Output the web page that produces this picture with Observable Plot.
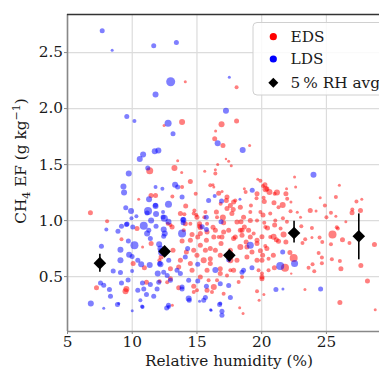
<!DOCTYPE html>
<html><head><meta charset="utf-8">
<script src="https://cdn.jsdelivr.net/npm/d3@7"></script>
<script src="https://cdn.jsdelivr.net/npm/@observablehq/plot@0.6"></script>
<style>body{margin:0;background:#fff}</style>
</head><body><div id="chart"></div>
<script>
const xTicks = [5, 10, 15, 20, 25];
const yTicks = [0.5, 1.0, 1.5, 2.0, 2.5];

const edsRH = [
12.46,14.1,18.06,18.06,13.85,16.9,16.44,16.37,17.01,19.07,
13.51,17.24,17.45,16.6,13.26,17.65,15.6,16.42,13.82,16.42,
11.35,14.49,16.24,16.3,19.7,19.9,20.25,13.85,20.4,18.66,
16.94,20.6,14.9,13.1,19.6,17.27,20.2,14.13,16.83,17.58,
19.17,14.8,17.8,16.5,14.03,14.95,17.0,15.57,18.4,19.12,
15.2,16.24,12.95,11.45,11.8,10.5,6.77,8.06,10.37,22.54,
22.62,26.0,20.1,20.3,21.18,21.87,21.92,20.15,21.97,22.26,
24.52,25.73,20.95,21.62,24.88,27.32,27.73,23.75,22.23,22.75,
24.2,25.35,27.0,26.98,27.63,25.73,20.1,23.0,21.64,25.0,
26.5,21.0,23.88,20.45,23.06,25.8,21.46,20.2,21.95,25.88,
20.02,20.92,21.13,21.3,21.69,21.87,23.36,23.88,24.47,24.68,
25.47,26.24,26.78,28.71,20.28,23.15,25.35,22.18,22.47,24.4,
24.65,25.42,26.04,20.07,20.53,21.8,20.98,23.93,23.62,24.65,
27.66,26.12,24.06,22.28,20.02,20.02,28.17,23.34,20.17,26.04,
28.77,13.1,18.56,19.8,9.17,10.8,11.46,10.07,10.94,12.23,
7.24,9.55,9.48,11.1,12.1,12.7,16.03,16.68,17.32,17.83,
18.76,19.64,21.0,13.08,14.1,13.72,14.75,15.2,13.85,14.49,
15.06,15.73,16.3,16.42,16.86,17.45,17.83,18.35,18.66,19.12,
19.64,19.64,19.25,18.86,20.02,19.76,20.4,20.9,18.22,17.83,
17.58,16.03,15.52,15.0,14.49,14.18,13.72,13.15,12.95,15.26,
15.9,16.3,15.0,14.75,17.06,13.59,12.12,12.95,12.74,14.62,
15.26,15.78,16.68,17.06,17.96,18.48,18.8,19.64,19.9,16.03,
16.8,17.58,18.48,14.75,15.78,16.16,19.64,18.3,18.6,18.99,
19.38,18.48,18.09,17.7,17.06,16.55,20.28,20.66,21.05,20.02,
20.53,19.64,16.03,16.8,15.65,15.26,14.75,13.98,13.59,14.62,
16.8,17.32,16.55,15.78,17.58,18.09,18.86,18.35,16.42,15.78,
15.26,14.49,15.0,15.65,17.32,16.93,19.12,19.9,20.66,21.3,
17.96,18.35];
const edsEF = [
1.85,2.24,2.19,1.89,1.88,1.86,1.80,1.73,1.67,1.67,
1.535,1.55,1.53,1.50,1.47,1.49,1.44,1.455,1.43,1.42,
1.445,1.35,1.32,1.30,1.37,1.355,1.32,1.30,1.285,1.285,
1.26,1.255,1.24,1.215,1.20,1.18,1.17,1.13,1.15,1.135,
1.135,1.09,1.10,1.077,1.056,1.05,1.027,1.03,0.99,1.0,
0.95,0.94,0.96,1.225,1.225,1.19,1.07,0.995,0.93,1.39,
1.30,1.315,1.31,1.28,1.25,1.24,1.285,1.205,1.195,1.165,
1.205,1.21,1.16,1.14,1.135,1.17,1.19,1.09,1.083,1.074,
1.086,1.07,1.10,1.07,1.09,1.04,1.05,1.03,1.02,1.03,
0.99,0.96,0.935,0.935,0.95,0.94,0.93,0.98,0.99,0.93,
0.855,0.855,0.83,0.815,0.877,0.81,0.833,0.85,0.85,0.81,
0.875,0.83,0.80,0.786,0.773,0.80,0.79,0.715,0.666,0.71,
0.67,0.655,0.64,0.69,0.66,0.58,0.58,0.61,0.58,0.62,
0.60,0.57,0.547,0.527,0.527,0.48,0.46,0.384,0.34,0.27,
0.205,0.244,0.17,0.29,0.833,0.765,0.795,0.616,0.58,0.675,
0.40,0.39,0.37,0.45,0.645,0.45,1.315,1.245,1.21,1.165,
1.255,1.24,1.24,0.943,0.973,1.063,1.063,0.973,0.818,0.824,
0.854,0.824,0.854,0.735,0.795,0.913,0.84,0.764,0.943,0.854,
1.0,0.795,0.72,0.675,0.497,0.556,0.75,0.69,0.452,0.556,
0.645,0.616,0.645,0.69,0.616,0.72,0.645,0.735,0.482,0.497,
0.467,0.407,0.378,0.413,0.348,0.40,0.458,0.57,0.973,0.877,
0.937,0.898,0.854,0.898,0.854,0.913,0.81,0.824,0.73,0.66,
0.57,0.556,0.497,0.363,0.378,0.363,0.37,0.223,1.03,0.913,
0.884,0.869,0.987,1.063,0.98,1.03,0.943,0.854,1.0,0.645,
0.556,0.645,0.75,0.69,0.735,0.78,0.735,0.913,0.586,0.556,
0.527,0.51,0.467,0.556,0.735,0.645,0.765,0.913,0.913,0.973,
0.884,0.973,1.03,1.077,1.107,0.854,1.077,1.077,1.063,1.12,
1.18,1.12];
const edsMass = [
1.5,1.5,2,2.5,3,3,1.5,2.5,2.5,1.5,
1.5,1.2,1.5,1.5,3,1.5,1.5,1.5,1.5,2,
3.5,2.5,1.5,1.5,1.5,2,2.5,2,2.5,1.5,
1.5,3,2,2,2,2.5,2.5,2.5,2,2.5,
2,2,2.5,2.5,2,2,3,2,2.5,2.5,
2.5,2.5,2,2.5,2.5,1.5,2.5,2,2.5,1.5,
1.5,1.5,2,3,3,2.5,1.5,2,2,1.5,
1.5,2,2.5,3,2,2,1.5,2.5,2,1.5,
1.5,2,2,2.5,2.5,1.5,2.5,1.5,2,2,
1.5,2.5,2,2.5,2,2,2,2,2,2,
2.5,3,2.5,2.5,3,2.5,2,1.5,2,2,
4,2.5,2,2.5,2,2,2,2.5,4,2,
2,2,2,2.5,2,4,2.5,2,2,2,
2.5,2.5,2,1.2,2,2.5,2.5,1.5,1.5,2.5,
1.5,1.5,1.5,1.5,2,1.5,2.5,2.5,2.5,2.5,
2.5,3,3,2.5,2,2,2,2.5,2.5,2.5,
2,2.5,2,2.5,2.5,2.5,2,2.5,2.5,2.5,
2.5,2.5,2.5,2.5,2.5,2.5,2.5,3,2.5,2.5,
2,2.5,2.5,2.5,2.5,2,2.5,2.5,2,2.5,
3,2.5,3,2.5,2.5,2.5,2.5,2.5,2.5,2.5,
2,3,2,2.5,2,2.5,2,2.5,2,2.5,
2.5,2.5,2,2.5,2.5,2.5,2.5,2.5,2.5,2.5,
2.5,2,2,2,2.5,2,2,1.5,2.5,2.5,
2,2.5,2.5,2.5,2.5,2,2,2,2,2.5,
2,2.5,2.5,2.5,2.5,2.5,2.5,2,2.5,2.5,
2.5,2,2,2.5,2.5,2.5,2.5,2.5,2.5,2,
2.5,2,2.5,2,2.5,2.5,2,2,2,2,
2,2.5];

const ldsRH = [
7.68,8.45,11.66,12.97,11.8,9.58,10.17,12.77,13.41,17.5,
17.24,12.02,11.74,10.84,10.58,11.2,9.73,9.32,9.37,11.8,
11.3,11.8,9.5,9.91,11.22,11.84,10.32,9.94,11.46,12.48,
10.89,9.17,8.0,9.6,11.84,12.8,13.15,16.6,18.53,13.31,
13.51,12.33,19.27,16.37,12.8,16.9,18.32,12.38,15.72,13.95,
16.86,15.4,24.0,21.62,21.43,22.54,21.1,21.64,24.55,6.8,
7.8,8.86,10.0,10.8,12.66,12.8,16.06,16.75,16.93,16.93,
14.4,15.2,9.55,10.04,11.28,12.43,8.9,7.62,9.09,9.7,
10.17,11.4,11.15,12.08,12.18,9.76,9.99,9.09,10.43,10.69,
11.35,12.18,8.53,9.09,9.99,7.55,7.8,8.24,9.17,9.68,
10.43,10.79,11.4,11.92,8.32,8.96,11.1,10.63,11.97,12.05,
12.3,11.79,13.85,15.9,11.15,12.38,12.51,13.93,15.73,19.12,
19.25,18.6,17.45,16.42,14.28,14.1,13.46,13.72,14.36,15.06,
15.73,14.36,15.65,16.8,17.58,16.8,13.85,12.82,10.76,10.89,
11.66,12.43,12.82,12.12,13.93,12.43,13.85,15.06,18.48,12.7,
12.95,13.85,15.52,17.45,16.09];
const ldsEF = [
2.696,2.52,2.56,2.24,2.125,1.93,1.89,1.87,2.59,2.28,
1.98,1.625,1.62,1.59,1.55,1.47,1.42,1.305,1.25,1.30,
1.19,1.13,1.115,1.085,1.085,1.06,1.04,1.02,1.00,1.02,
0.955,0.95,0.92,0.97,0.95,0.99,1.775,1.69,1.63,1.32,
1.30,1.285,1.27,1.22,1.145,1.175,1.19,1.077,1.03,1.005,
0.99,0.945,1.41,0.72,0.595,0.616,0.384,0.39,0.39,0.26,
0.217,0.25,0.196,0.228,0.22,0.244,0.205,0.25,0.19,0.154,
0.29,0.28,0.965,0.943,0.915,0.92,0.905,0.77,0.74,0.818,
0.78,0.84,0.885,0.79,0.75,0.696,0.68,0.645,0.645,0.61,
0.604,0.61,0.55,0.536,0.55,0.443,0.423,0.384,0.443,0.47,
0.378,0.443,0.43,0.39,0.324,0.26,0.34,0.29,0.527,0.45,
0.72,1.137,1.21,1.18,1.068,1.032,0.885,1.01,0.92,0.78,
0.58,0.556,0.65,0.56,0.75,0.675,0.556,0.527,0.467,0.46,
0.413,0.304,0.313,0.437,0.313,0.26,0.407,0.228,0.234,0.39,
0.324,0.54,0.645,0.616,0.98,0.86,0.885,0.61,0.54,0.51,
0.467,0.39,0.29,0.42,0.2];
const ldsMass = [
2.5,1.5,2.5,4.5,3,2.5,2,3.5,2.5,1.5,
3,3,3,3,3,2.5,3,3,3,2,
3,3,2.5,3,4,3,2,2,3,3.5,
4,2.5,2,2.5,2.5,3,2.5,3,3,3,
2.5,2,2.5,2,3.5,2.5,1.5,2,2.5,3,
2.5,2.5,3,2.5,4,3.5,2.5,1.5,2.5,3,
1.5,2.5,1.5,2,2.5,2.5,1.5,2.5,2.5,2.5,
2.5,1.5,2.5,2.5,2.5,3,2.5,2.5,3,2.5,
4,2.5,3,3,3,3,2.5,3,2.5,3,
3,3,2.5,2.5,2,2.5,2.5,2.5,2.5,2.5,
2.5,2.5,2.5,2.5,2.5,1.5,2.5,2,3,2.5,
4,2.5,2.5,2.5,2.5,2.5,3,2.5,2.5,3.5,
2.5,2.5,2.5,3,2.5,2.5,2.5,2.5,2.5,2.5,
2.5,3,2.5,2.5,2.5,2,2.5,2,2,2.5,
2.5,2.5,2.5,2.5,2.5,2.5,4,2.5,2.5,2.5,
2.5,2.5,2.5,2.5,1.5];

const avgRH = [7.5, 12.5, 17.5, 22.5, 27.5];
const avgEF = [0.62, 0.725, 0.69, 0.89, 0.86];
const avgLo = [0.54, 0.70, 0.665, 0.80, 0.65];
const avgHi = [0.70, 0.75, 0.715, 0.995, 1.06];

const eds = edsRH.map((x, i) => ({rh: x, ef: edsEF[i], m: edsMass[i]}));
const lds = ldsRH.map((x, i) => ({rh: x, ef: ldsEF[i], m: ldsMass[i]}));
const avg = avgRH.map((x, i) => ({rh: x, ef: avgEF[i], lo: avgLo[i], hi: avgHi[i]}));

const FONT = "'DejaVu Serif', 'Liberation Serif', serif";
const FS = 15.3;

const diamond = {draw(ctx, size) {
  const h = Math.sqrt(size / Math.PI);
  ctx.moveTo(0, -h); ctx.lineTo(h, 0); ctx.lineTo(0, h); ctx.lineTo(-h, 0); ctx.closePath();
}};

const plot = Plot.plot({
  width: 379, height: 372,
  marginLeft: 67, marginRight: 0, marginTop: 14, marginBottom: 41,
  style: `font-family: ${FONT}; font-size: ${FS}px; background: white; color: #1a1a1a;`,
  x: {domain: [5, 29.1]},
  y: {domain: [0.01, 2.84]},
  r: {type: "linear", domain: [0, 5], range: [0, 5]},
  marks: [
    Plot.gridX(xTicks, {stroke: "#dcdcdc", strokeOpacity: 1, strokeWidth: 1.2}),
    Plot.gridY(yTicks, {stroke: "#dcdcdc", strokeOpacity: 1, strokeWidth: 1.2}),
    Plot.dot(eds, {x: "rh", y: "ef", r: "m", fill: "#ff0000", fillOpacity: 0.5}),
    Plot.dot(lds, {x: "rh", y: "ef", r: "m", fill: "#0000ff", fillOpacity: 0.5}),
    Plot.ruleX(avg, {x: "rh", y1: "lo", y2: "hi", stroke: "black", strokeWidth: 1.6}),
    Plot.dot(avg, {x: "rh", y: "ef", r: 6.3, symbol: diamond, fill: "black"}),
    Plot.axisX(xTicks, {tickSize: 3, tickPadding: 2, fontSize: FS, fontFamily: FONT, stroke: "#888", fill: "#1a1a1a", label: null}),
    Plot.axisY(yTicks, {tickSize: 3, tickPadding: 1.5, fontSize: FS, fontFamily: FONT, stroke: "#888", fill: "#1a1a1a", label: null, tickFormat: d => d.toFixed(1)}),
    Plot.ruleX([5], {stroke: "#888", strokeWidth: 1.6}),
    Plot.ruleY([0.01], {stroke: "#888", strokeWidth: 1.6}),
    Plot.ruleY([2.84], {stroke: "#333", strokeWidth: 1.4})
  ]
});

const svg = d3.select(plot);
svg.append("text").attr("x", 229).attr("y", 365.5).attr("text-anchor", "middle")
  .attr("font-family", FONT).attr("font-size", FS).attr("fill", "#1a1a1a").text("Relative humidity (%)");
const yl = svg.append("text").attr("transform", "translate(26,161) rotate(-90)")
  .attr("text-anchor", "middle").attr("font-family", FONT).attr("font-size", FS).attr("fill", "#1a1a1a");
yl.append("tspan").text("CH");
yl.append("tspan").attr("font-size", 11).attr("dy", 3.5).text("4");
yl.append("tspan").attr("dy", -3.5).text(" EF (g kg");
yl.append("tspan").attr("font-size", 11).attr("dy", -6.5).text("\u22121");
yl.append("tspan").attr("dy", 6.5).text(")");

const lg = svg.append("g").attr("font-family", FONT).attr("text-anchor", "start");
lg.append("rect").attr("x", 253).attr("y", 22.5).attr("width", 140).attr("height", 72.5)
  .attr("rx", 4).attr("fill", "white").attr("fill-opacity", 0.85).attr("stroke", "#d0d0d0");
lg.append("circle").attr("cx", 273.3).attr("cy", 36.7).attr("r", 3.6).attr("fill", "#ff0000");
lg.append("circle").attr("cx", 273.3).attr("cy", 59).attr("r", 3.6).attr("fill", "#0000ff");
lg.append("path").attr("d", "M273.3,77.7L278.3,82.7L273.3,87.7L268.3,82.7Z").attr("fill", "black");
[["EDS", 42], ["LDS", 64.3], ["5\u2009% RH avg", 88]].forEach(([t, y]) => {
  lg.append("text").attr("x", 290.5).attr("y", y).attr("text-anchor", "start")
    .attr("font-family", FONT).attr("font-size", FS).attr("fill", "#1a1a1a").text(t);
});

document.getElementById("chart").appendChild(plot);
</script>
</body></html>
